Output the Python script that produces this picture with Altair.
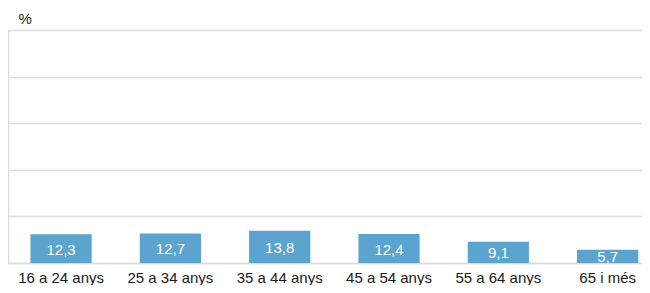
import altair as alt
import pandas as pd

categories = ["16 a 24 anys", "25 a 34 anys", "35 a 44 anys", "45 a 54 anys", "55 a 64 anys", "65 i més"]
values = [12.3, 12.7, 13.8, 12.4, 9.1, 5.7]
labels = ["12,3", "12,7", "13,8", "12,4", "9,1", "5,7"]

df = pd.DataFrame({"cat": categories, "val": values, "lab": labels})

FONT = "Liberation Sans"
GRID = "#dcdcdc"

x = alt.X("cat:N", sort=categories, title=None,
          scale=alt.Scale(paddingInner=0.44, paddingOuter=0.12, align=0.857),
          axis=alt.Axis(labelAngle=0, labelFontSize=15, labelFont=FONT, labelColor="#1a1a1a",
                        ticks=False, domainColor=GRID, domainWidth=1.5, labelPadding=7))
y = alt.Y("val:Q", title="%", scale=alt.Scale(domain=[0, 100], nice=False),
          axis=alt.Axis(values=[0, 20, 40, 60, 80, 100], labels=False, ticks=False,
                        domainColor=GRID, domainWidth=1.5, gridColor=GRID, gridWidth=1.5,
                        titleAngle=0, titleAlign="left", titleBaseline="alphabetic",
                        titleX=10, titleY=-7, titleFont=FONT, titleFontSize=15,
                        titleFontWeight="normal", titleColor="#1a1a1a"))

bars = alt.Chart(df).mark_bar(color="#5BA4CF").encode(x=x, y=y)
text = alt.Chart(df).transform_calculate(mid="datum.val / 2").mark_text(
    color="white", font=FONT, fontSize=15, baseline="middle", dy=1).encode(
    x=alt.X("cat:N", sort=categories), y=alt.Y("mid:Q"), text="lab:N")

chart = (bars + text).properties(
    width=634, height=233,
    autosize=alt.AutoSizeParams(type="none"),
    padding={"left": 0, "top": 22, "right": 0, "bottom": 22},
).configure_view(stroke=None).configure_axis(gridOpacity=1)

chart.save("out.html", embed_options={"renderer": "svg", "actions": False})
